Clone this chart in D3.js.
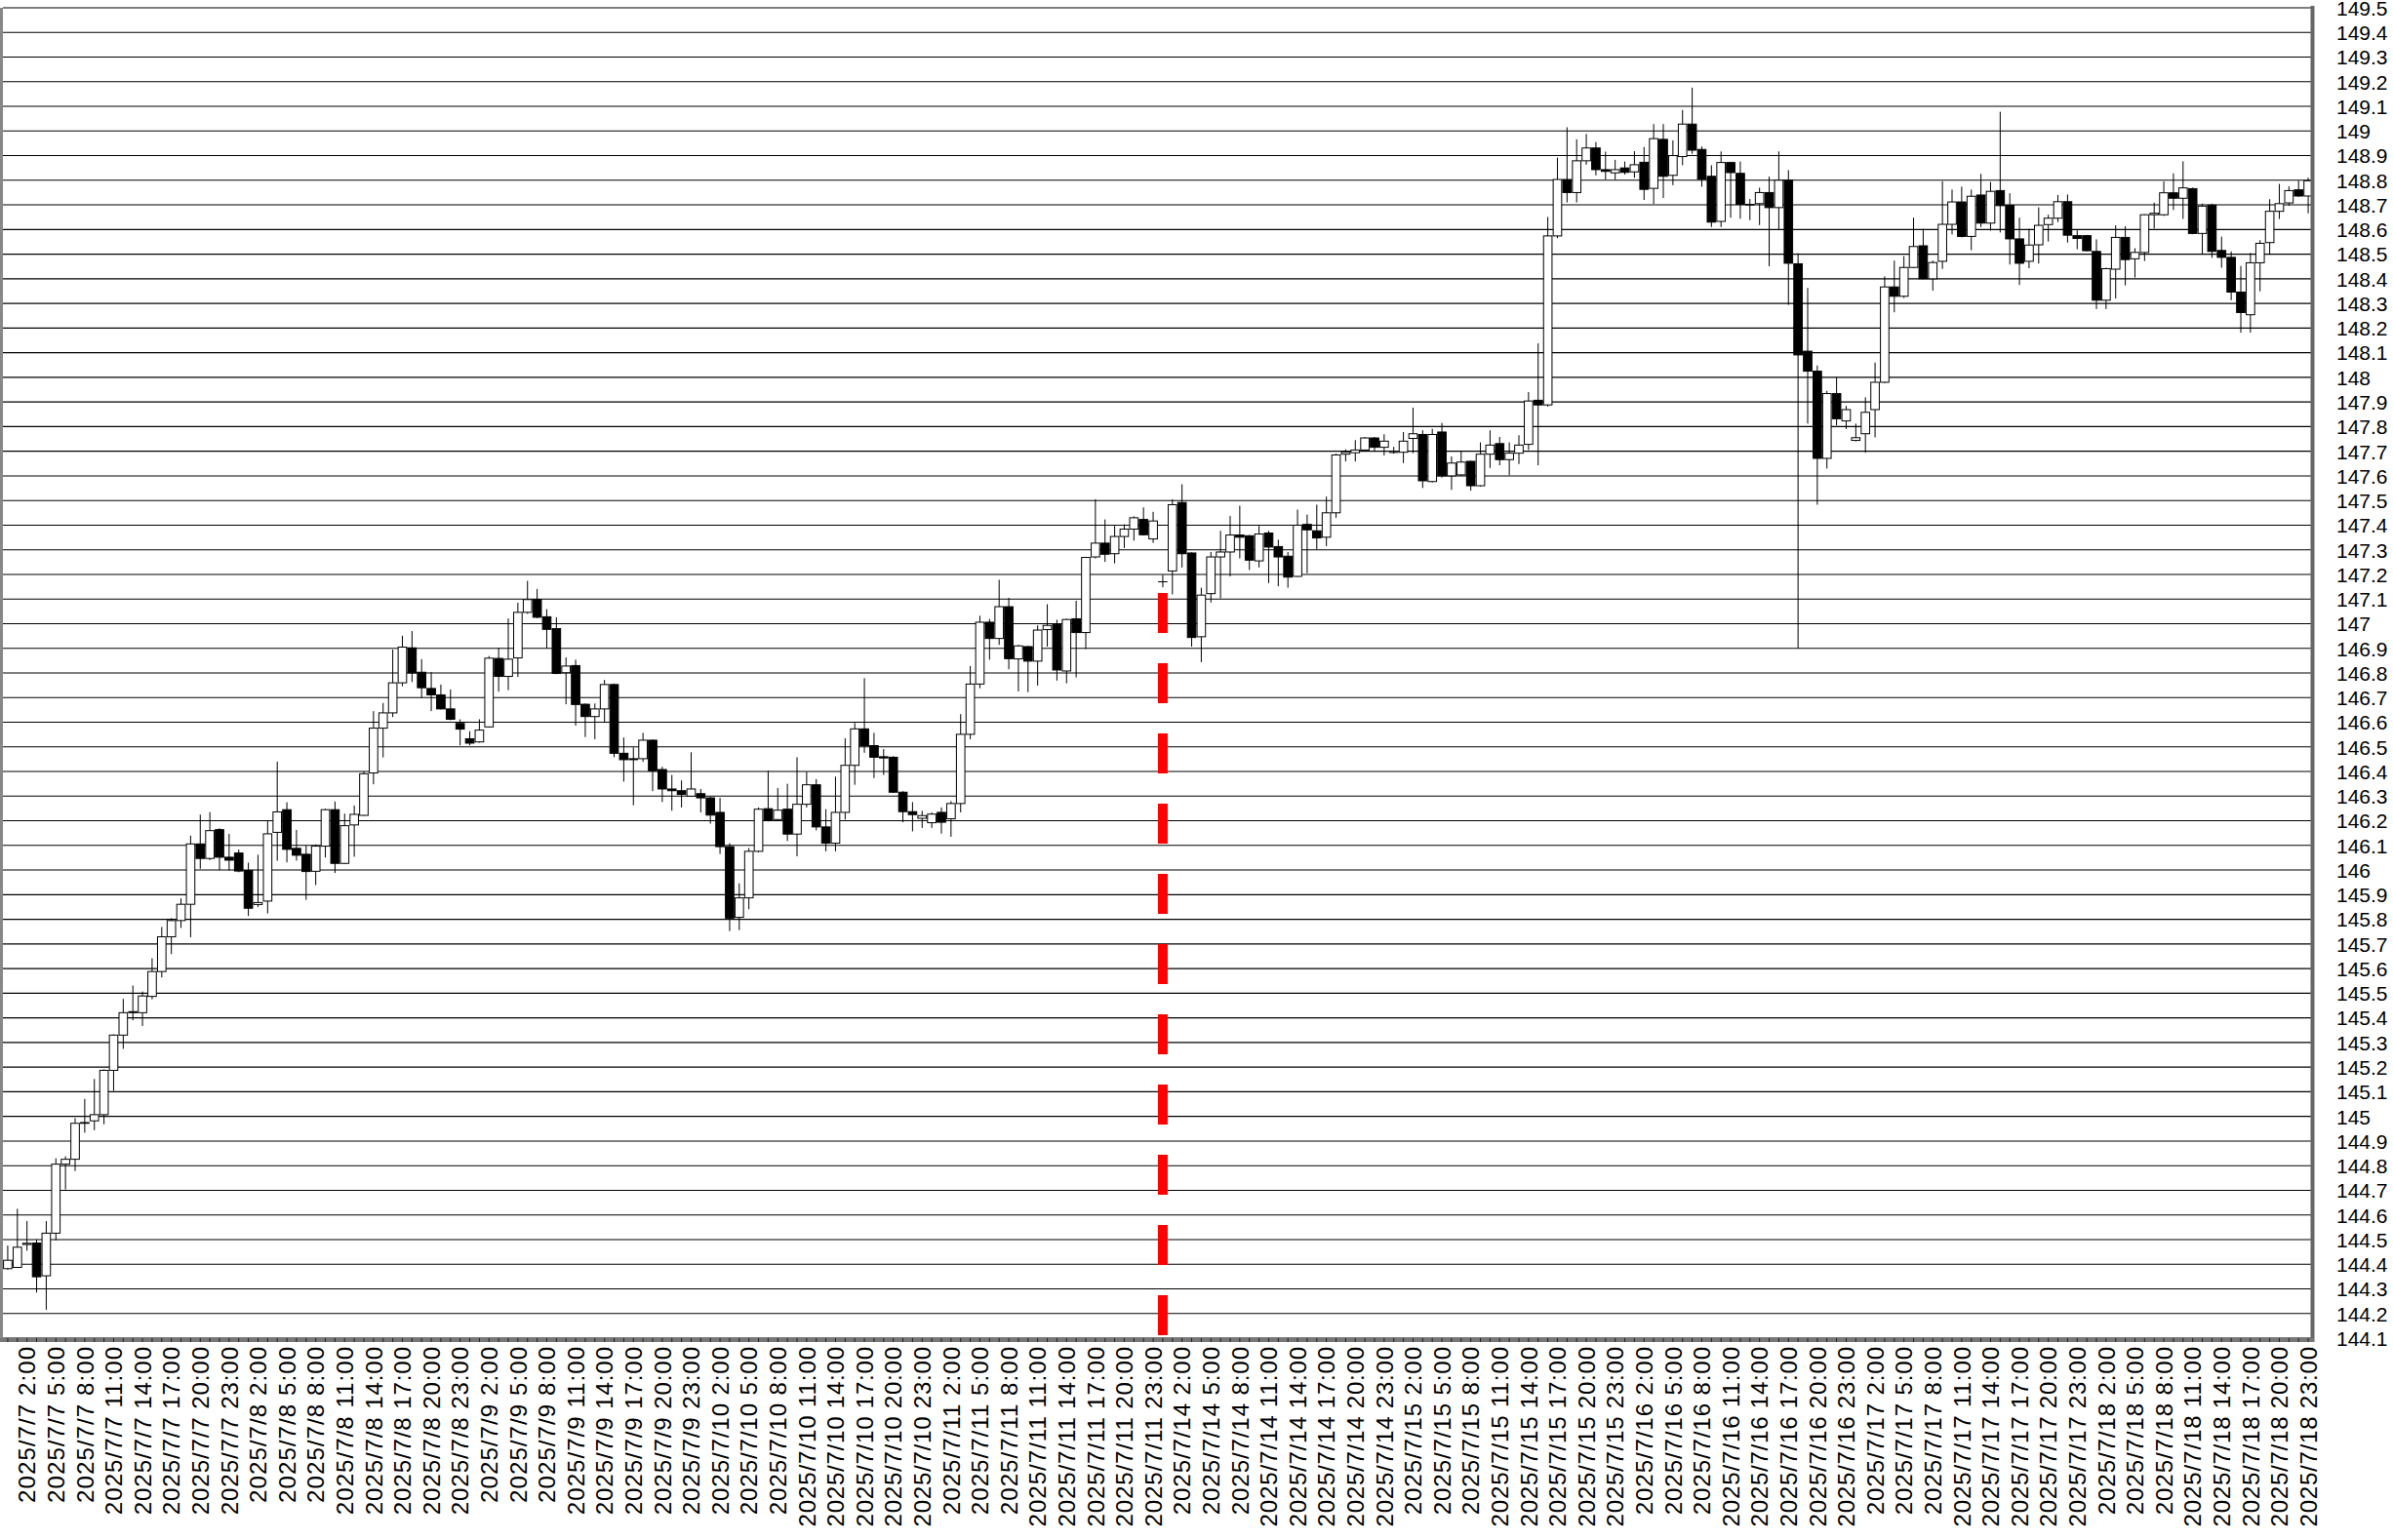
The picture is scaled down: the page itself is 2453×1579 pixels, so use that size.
<!DOCTYPE html>
<html><head><meta charset="utf-8">
<script src="https://cdn.jsdelivr.net/npm/d3@7"></script>
<style>html,body{margin:0;padding:0;background:#fff;}svg{display:block;}</style>
</head><body>
<svg id="chart" width="2453" height="1579"></svg>
<script>
const days = ["2025/7/7","2025/7/8","2025/7/9","2025/7/10","2025/7/11","2025/7/14","2025/7/15","2025/7/16","2025/7/17","2025/7/18"];
const hours = ["0:00","1:00","2:00","3:00","4:00","5:00","6:00","7:00","8:00","9:00","10:00","11:00",
  "12:00","13:00","14:00","15:00","16:00","17:00","18:00","19:00","20:00","21:00","22:00","23:00"];
const tickHours = ["2:00","5:00","8:00","11:00","14:00","17:00","20:00","23:00"];
const yTickLabels = ["149.5","149.4","149.3","149.2","149.1","149","148.9","148.8","148.7","148.6","148.5","148.4","148.3","148.2","148.1",
  "148","147.9","147.8","147.7","147.6","147.5","147.4","147.3","147.2","147.1","147","146.9","146.8","146.7","146.6","146.5",
  "146.4","146.3","146.2","146.1","146","145.9","145.8","145.7","145.6","145.5","145.4","145.3","145.2","145.1","145","144.9",
  "144.8","144.7","144.6","144.5","144.4","144.3","144.2","144.1"];
const markerCategory = "2025/7/14 0:00";

const open = [
144.382,144.387,144.48,144.486,144.353,144.526,144.806,144.826,144.972,144.982,
145.007,145.187,145.33,145.421,145.421,145.487,145.588,145.729,145.795,145.861,
146.106,146.047,146.164,146.052,146.069,145.998,145.86,145.874,146.153,146.245,
146.088,146.064,145.995,146.097,146.245,146.027,146.183,146.222,146.394,146.576,
146.638,146.76,146.902,146.803,146.737,146.711,146.654,146.595,146.533,146.52,
146.581,146.859,146.786,146.861,147.046,147.098,147.028,146.98,146.801,146.83,
146.673,146.623,146.654,146.753,146.474,146.448,146.452,146.527,146.408,146.329,
146.322,146.3,146.31,146.293,146.234,146.095,145.808,145.887,146.076,146.249,
146.205,146.247,146.146,146.267,146.346,146.175,146.109,146.234,146.425,146.573,
146.505,146.46,146.458,146.316,146.237,146.21,146.192,146.234,146.208,146.27,
146.551,146.755,147.006,146.94,147.069,146.857,146.907,146.848,146.976,146.997,
146.808,147.02,146.964,147.271,147.327,147.284,147.354,147.384,147.423,147.344,
147.17,147.214,147.492,147.287,146.947,147.122,147.271,147.291,147.36,147.357,
147.255,147.368,147.313,147.274,147.192,147.403,147.377,147.351,147.45,147.688,
147.694,147.705,147.754,147.716,147.695,147.696,147.752,147.768,147.577,147.778,
147.6,147.604,147.659,147.56,147.688,147.731,147.666,147.692,147.728,147.907,
147.888,148.574,148.803,148.75,148.879,148.931,148.843,148.83,148.85,148.834,
148.873,148.767,148.966,148.82,148.896,149.028,148.925,148.816,148.633,148.872,
148.828,148.702,148.705,148.75,148.689,148.8,148.461,148.106,148.025,147.671,
147.934,147.823,147.744,147.771,147.869,147.98,148.367,148.329,148.446,148.534,
148.4,148.471,148.621,148.712,148.572,148.74,148.626,148.758,148.698,148.562,
148.471,148.538,148.62,148.646,148.713,148.575,148.575,148.511,148.313,148.439,
148.568,148.481,148.507,148.66,148.66,148.749,148.727,148.766,148.584,148.699,
148.515,148.487,148.346,148.254,148.465,148.547,148.674,148.708,148.761,148.736];

const high = [
144.476,144.625,144.575,144.50,144.575,144.83,144.838,144.993,145.071,145.152,
145.191,145.333,145.477,145.531,145.507,145.642,145.769,145.805,145.885,146.14,
146.225,146.235,146.17,146.147,146.083,146.03,146.062,146.2,146.44,146.275,
146.163,146.1,146.104,146.249,146.278,146.229,146.262,146.4,146.645,146.678,
146.895,146.951,146.97,146.856,146.803,146.753,146.733,146.612,146.563,146.612,
146.869,146.902,147.021,147.085,147.174,147.141,147.059,147.026,146.863,146.854,
146.676,146.676,146.772,146.757,146.538,146.498,146.557,146.53,146.419,146.386,
146.364,146.478,146.329,146.297,146.293,146.109,145.946,146.089,146.254,146.403,
146.333,146.35,146.458,146.399,146.369,146.247,146.379,146.535,146.597,146.779,
146.557,146.491,146.462,146.32,146.276,146.24,146.234,146.254,146.28,146.633,
146.828,147.032,147.019,147.178,147.105,146.914,146.91,146.993,147.079,147.016,
147.02,147.093,147.271,147.505,147.423,147.397,147.403,147.436,147.472,147.454,
147.198,147.505,147.566,147.29,147.146,147.291,147.377,147.437,147.479,147.36,
147.397,147.377,147.341,147.291,147.463,147.443,147.483,147.516,147.69,147.708,
147.745,147.758,147.758,147.769,147.718,147.778,147.877,147.785,147.791,147.815,
147.679,147.699,147.661,147.736,147.785,147.758,147.736,147.765,147.94,148.138,
148.651,148.892,149.015,148.966,148.988,148.955,148.916,148.883,148.876,148.918,
148.935,149.028,149.028,148.962,149.085,149.176,148.937,148.861,148.917,148.875,
148.876,148.724,148.77,148.815,148.917,148.841,148.504,148.363,148.048,147.945,
148.0,147.884,147.812,147.919,148.06,148.41,148.474,148.492,148.648,148.603,
148.474,148.796,148.762,148.774,148.762,148.826,148.793,149.078,148.747,148.648,
148.603,148.69,148.66,148.74,148.742,148.597,148.578,148.56,148.445,148.617,
148.613,148.524,148.662,148.709,148.795,148.828,148.877,148.77,148.705,148.705,
148.571,148.511,148.452,148.505,148.557,148.723,148.785,148.775,148.798,148.811];

const low = [
144.377,144.385,144.455,144.285,144.215,144.497,144.703,144.778,144.934,144.944,
144.968,145.104,145.274,145.39,145.367,145.475,145.564,145.659,145.765,145.727,
146.005,146.04,146.0,145.998,145.991,145.814,145.85,145.824,146.038,146.031,
146.038,145.879,145.939,146.051,145.988,146.025,146.054,146.22,146.348,146.457,
146.621,146.746,146.763,146.698,146.645,146.652,146.608,146.506,146.506,146.517,
146.578,146.724,146.73,146.784,147.04,147.022,146.9,146.795,146.673,146.586,
146.54,146.531,146.601,146.458,146.359,146.263,146.439,146.32,146.276,146.241,
146.254,146.297,146.234,146.188,146.065,145.752,145.756,145.841,146.072,146.197,
146.2,146.118,146.056,146.254,146.161,146.076,146.076,146.205,146.346,146.476,
146.373,146.386,146.313,146.194,146.157,146.171,146.171,146.148,146.135,146.234,
146.531,146.738,146.854,146.914,146.815,146.725,146.722,146.749,146.907,146.769,
146.758,146.782,146.897,147.265,147.251,147.245,147.307,147.337,147.358,147.328,
147.148,147.119,147.228,146.907,146.844,147.086,147.103,147.192,147.265,147.218,
147.228,147.165,147.152,147.146,147.19,147.205,147.302,147.315,147.43,147.659,
147.659,147.7,147.698,147.683,147.69,147.652,147.692,147.551,147.573,147.593,
147.543,147.6,147.54,147.556,147.632,147.643,147.603,147.648,147.705,147.643,
147.881,148.565,148.71,148.71,148.863,148.82,148.803,148.803,148.823,148.81,
148.72,148.704,148.728,148.78,148.861,148.907,148.774,148.61,148.61,148.648,
148.644,148.638,148.618,148.451,148.598,148.294,146.9,147.812,147.483,147.63,
147.805,147.79,147.74,147.694,147.756,147.976,148.264,148.322,148.443,148.398,
148.352,148.44,148.58,148.568,148.516,148.61,148.595,148.588,148.458,148.375,
148.443,148.462,148.551,148.63,148.547,148.52,148.512,148.277,148.277,148.32,
148.373,148.405,148.472,148.604,148.655,148.679,148.643,148.581,148.498,148.485,
148.445,148.313,148.181,148.181,148.349,148.498,148.643,148.696,148.732,148.666];

const close = [
144.416,144.469,144.485,144.349,144.526,144.806,144.826,144.972,144.975,145.007,
145.187,145.33,145.421,145.425,145.489,145.588,145.729,145.795,145.861,146.106,
146.047,146.16,146.052,146.04,145.996,145.845,145.868,146.147,146.236,146.084,
146.06,145.994,146.097,146.245,146.027,146.18,146.226,146.391,146.576,146.638,
146.76,146.905,146.8,146.74,146.711,146.654,146.612,146.572,146.515,146.568,
146.86,146.786,146.856,147.046,147.098,147.026,146.977,146.798,146.828,146.672,
146.623,146.654,146.753,146.474,146.448,146.452,146.527,146.403,146.329,146.322,
146.307,146.329,146.293,146.223,146.095,145.805,145.887,146.076,146.247,146.201,
146.243,146.146,146.267,146.346,146.175,146.109,146.234,146.425,146.573,146.505,
146.458,146.455,146.316,146.237,146.225,146.221,146.227,146.194,146.27,146.551,
146.755,147.006,146.94,147.069,146.858,146.91,146.848,146.974,146.993,146.812,
147.017,146.964,147.269,147.327,147.282,147.354,147.384,147.43,147.361,147.417,
147.17,147.483,147.284,146.944,147.116,147.271,147.291,147.36,147.351,147.258,
147.364,147.311,147.271,147.189,147.4,147.381,147.348,147.45,147.685,147.696,
147.705,147.754,147.716,147.741,147.695,147.741,147.771,147.58,147.768,147.6,
147.652,147.656,147.56,147.688,147.725,147.666,147.692,147.725,147.904,147.888,
148.574,148.803,148.75,148.879,148.931,148.843,148.836,148.843,148.832,148.863,
148.763,148.969,148.816,148.9,149.028,148.922,148.805,148.63,148.872,148.831,
148.702,148.7,148.75,148.689,148.8,148.463,148.091,148.025,147.671,147.934,
147.832,147.869,147.755,147.858,147.98,148.367,148.329,148.446,148.531,148.4,
148.466,148.621,148.712,148.572,148.735,148.626,148.755,148.697,148.562,148.463,
148.537,148.617,148.646,148.713,148.577,148.564,148.514,148.313,148.441,148.568,
148.478,148.507,148.66,148.666,148.749,148.727,148.769,148.584,148.695,148.511,
148.487,148.346,148.263,148.465,148.544,148.674,148.705,148.758,148.736,148.798];

(function () {
const categories = days.flatMap(d => hours.map(h => d + " " + h));
const tickCats = categories.filter(c => tickHours.includes(c.split(" ")[1]));
const candles = categories.map((c, i) => ({c, o: open[i], h: high[i], l: low[i], cl: close[i]}));

const W = 2453, H = 1579;
const pL = 3, pR = 2371, pT = 8, pB = 1372;
const svg = d3.select("#chart");
svg.append("rect").attr("width", W).attr("height", H).attr("fill", "#fff");

const x = d3.scaleBand().domain(categories).range([pL, pR]).padding(0);
const y = d3.scaleLinear().domain([144.1, 149.5]).range([pB, pT]);
const yVals = yTickLabels.map(Number);

// grid lines
svg.append("g").selectAll("line").data(yVals).join("line")
  .attr("x1", pL).attr("x2", pR)
  .attr("y1", d => y(d)).attr("y2", d => y(d))
  .attr("stroke", "#000").attr("stroke-width", 1.1);

// candles
const bw = x.bandwidth();
const cg = svg.append("g");
const cx = d => x(d.c) + bw / 2;
cg.selectAll("line.wick").data(candles).join("line").attr("class", "wick")
  .attr("x1", cx).attr("x2", cx)
  .attr("y1", d => y(d.h)).attr("y2", d => y(d.l))
  .attr("stroke", "#000").attr("stroke-width", 1);
cg.selectAll("rect.body").data(candles).join("rect").attr("class", "body")
  .attr("x", d => cx(d) - (bw - 1.2) / 2)
  .attr("width", bw - 1.2)
  .attr("y", d => y(Math.max(d.o, d.cl)))
  .attr("height", d => Math.max(0.01, Math.abs(y(d.o) - y(d.cl))))
  .attr("fill", d => d.cl >= d.o ? "#fff" : "#000")
  .attr("stroke", "#000").attr("stroke-width", 1);

// red dashed marker at week start
const mk = candles.find(d => d.c === markerCategory);
svg.append("line")
  .attr("x1", cx(mk)).attr("x2", cx(mk))
  .attr("y1", y(mk.l) + 6).attr("y2", pB)
  .attr("stroke", "#ff0000").attr("stroke-width", 10)
  .attr("stroke-dasharray", "41,31");

// frame
svg.append("line").attr("x1", 1.5).attr("x2", 1.5).attr("y1", pT).attr("y2", pB + 3)
  .attr("stroke", "#888").attr("stroke-width", 3);
svg.append("line").attr("x1", pR - 0.5).attr("x2", pR - 0.5).attr("y1", pT - 2).attr("y2", pB + 4)
  .attr("stroke", "#666").attr("stroke-width", 4);
svg.append("line").attr("x1", 0).attr("x2", pR + 1).attr("y1", pB + 2).attr("y2", pB + 2)
  .attr("stroke", "#777").attr("stroke-width", 4);
// small ticks in bottom band, one per candle
svg.append("g").selectAll("line").data(categories).join("line")
  .attr("x1", d => x(d) + bw / 2).attr("x2", d => x(d) + bw / 2)
  .attr("y1", pB).attr("y2", pB + 4)
  .attr("stroke", "#222").attr("stroke-width", 1);

// x axis
const xAxis = d3.axisBottom(x).tickValues(tickCats).tickSize(0).tickPadding(0);
const gx = svg.append("g").attr("transform", `translate(0,${pB})`).call(xAxis);
gx.select(".domain").remove();
gx.selectAll("text")
  .attr("transform", "rotate(-90)")
  .attr("text-anchor", "end")
  .attr("x", -9).attr("y", 0).attr("dy", "0.36em")
  .attr("font-family", "'Liberation Sans', Arial, sans-serif")
  .attr("font-size", 24).attr("fill", "#000")
  .attr("textLength", d => d.length * 12.3)
  .attr("lengthAdjust", "spacing");

// y axis labels
const yAxis = d3.axisRight(y).tickValues(yVals).tickFormat((d, i) => yTickLabels[i]).tickSize(0).tickPadding(24);
const gy = svg.append("g").attr("transform", `translate(${pR},0)`).call(yAxis);
gy.select(".domain").remove();
gy.selectAll("text")
  .attr("font-family", "'Liberation Sans', Arial, sans-serif")
  .attr("font-size", 21).attr("fill", "#000").attr("dy", "0.35em");
})();
</script>
</body></html>
